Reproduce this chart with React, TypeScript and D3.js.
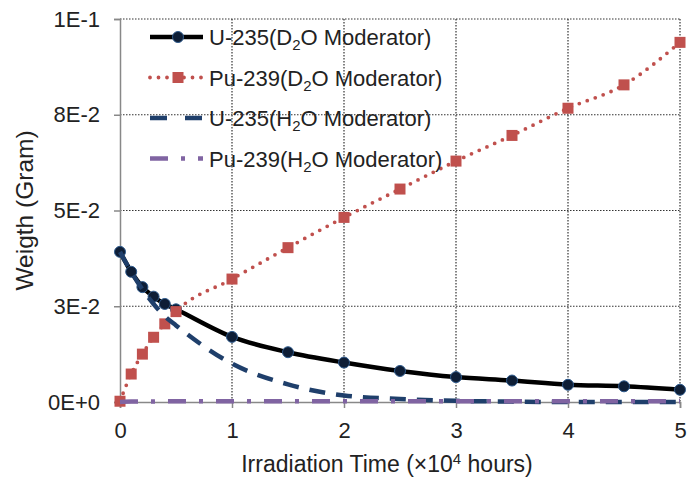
import React, { useRef, useEffect } from 'react';
import * as d3 from 'd3';

// irradiation time, x10^4 hours
const times = [0, 0.1, 0.2, 0.3, 0.4, 0.5, 1, 1.5, 2, 2.5, 3, 3.5, 4, 4.5, 5];

// weight in grams
const u235D2O = [0.0392, 0.0340, 0.0300, 0.0275, 0.0256, 0.0242, 0.0170, 0.0130, 0.0103, 0.0081, 0.0065, 0.0056, 0.0045, 0.0041, 0.0032];
const pu239D2O = [0.0002, 0.0073, 0.0125, 0.0169, 0.0204, 0.0236, 0.0321, 0.0403, 0.0482, 0.0556, 0.0629, 0.0696, 0.0767, 0.0828, 0.0939];
const u235H2O = [0.0392, 0.0340, 0.0294, 0.0256, 0.0224, 0.0200, 0.0100, 0.0046, 0.0017, 0.0008, 0.0003, 0.0001, 0.0000, 0.0000, 0.0000];
const pu239H2O = [0.0000, 0.0001, 0.0001, 0.0001, 0.0002, 0.0002, 0.0002, 0.0002, 0.0002, 0.0002, 0.0002, 0.0002, 0.0002, 0.0002, 0.0002];

const xTicks = [0, 1, 2, 3, 4, 5];
const yTicks = [0, 0.025, 0.05, 0.075, 0.1];
const yTickLabels = ['0E+0', '3E-2', '5E-2', '8E-2', '1E-1'];

const FONT = '"Liberation Sans", Arial, sans-serif';

const App = () => {
  const ref = useRef<SVGSVGElement>(null);
  const width = 688;
  const height = 482;

  useEffect(() => {
    const svg = d3.select(ref.current)
      .attr('width', width)
      .attr('height', height)
      .style('background-color', 'white')
      .style('font-family', FONT);

    svg.selectAll('*').remove();

    const left = 120, top = 19, right = 680, bottom = 402;

    const x = d3.scaleLinear().domain([0, 5]).range([left, right]);
    const y = d3.scaleLinear().domain([0, 0.1]).range([bottom, top]);

    // dotted grid
    const grid = svg.append('g');
    grid.selectAll('line.h')
      .data(yTicks.slice(1))
      .enter().append('line')
      .attr('x1', left).attr('x2', right)
      .attr('y1', d => y(d)).attr('y2', d => y(d))
      .style('stroke', '#333')
      .style('stroke-width', 1.2)
      .style('stroke-dasharray', '1.5,1.5');
    grid.selectAll('line.v')
      .data(xTicks.slice(1))
      .enter().append('line')
      .attr('x1', d => x(d)).attr('x2', d => x(d))
      .attr('y1', top).attr('y2', bottom)
      .style('stroke', '#333')
      .style('stroke-width', 1.2)
      .style('stroke-dasharray', '1.5,1.5');

    // axes
    const yAxis = d3.axisLeft(y)
      .tickValues(yTicks)
      .tickSize(6)
      .tickPadding(14)
      .tickFormat((d, i) => yTickLabels[i]);
    const yg = svg.append('g').attr('transform', `translate(${left},0)`).call(yAxis);
    yg.select('.domain').style('stroke', '#888').style('stroke-width', 1.5);
    yg.selectAll('.tick line').style('stroke', '#888').style('stroke-width', 1.5);
    yg.selectAll('text').style('font-size', '22px').style('fill', '#222').style('font-family', FONT);

    const xAxis = d3.axisBottom(x)
      .tickValues(xTicks)
      .tickSize(6)
      .tickFormat(d3.format('d'));
    const xg = svg.append('g').attr('transform', `translate(0,${bottom})`).call(xAxis);
    xg.select('.domain').style('stroke', '#888').style('stroke-width', 1.5);
    xg.selectAll('.tick line').style('stroke', '#888').style('stroke-width', 1.5);
    xg.selectAll('text')
      .attr('y', 36).attr('dy', null)
      .style('font-size', '22px').style('fill', '#222').style('font-family', FONT);

    // axis titles
    const xt = svg.append('text')
      .attr('x', 387)
      .attr('y', 472)
      .attr('text-anchor', 'middle')
      .style('font-size', '23px')
      .style('fill', '#222');
    xt.append('tspan').text('Irradiation Time (\u00d710');
    xt.append('tspan').attr('dy', -8).style('font-size', '15px').text('4');
    xt.append('tspan').attr('dy', 8).text(' hours)');

    svg.append('g').attr('transform', `translate(33, ${(top + bottom) / 2})`)
      .append('text')
      .attr('transform', 'rotate(-90)')
      .attr('text-anchor', 'middle')
      .style('font-size', '24.5px')
      .style('fill', '#222')
      .text('Weigth (Gram)');

    const series = [
      { name: 'U-235', mod: 'D', values: u235D2O, color: '#000', width: 4.5, dash: null, cap: 'butt', marker: 'circle' },
      { name: 'Pu-239', mod: 'D', values: pu239D2O, color: '#C0504D', width: 3.8, dash: '0,8.5', cap: 'round', marker: 'square' },
      { name: 'U-235', mod: 'H', values: u235H2O, color: '#1F3F6B', width: 4.5, dash: '16,11', cap: 'butt', marker: null },
      { name: 'Pu-239', mod: 'H', values: pu239H2O, color: '#8064A2', width: 4.5, dash: '18,13,4,13', cap: 'butt', marker: null },
    ];

    const line = d3.line<number>()
      .x((d, i) => x(times[i]))
      .y(d => y(d))
      .curve(d3.curveMonotoneX);

    const plot = svg.append('g');
    series.forEach(s => {
      plot.append('path')
        .datum(s.values)
        .attr('d', line)
        .style('fill', 'none')
        .style('stroke', s.color)
        .style('stroke-width', s.width)
        .style('stroke-linecap', s.cap)
        .style('stroke-dasharray', s.dash);
      if (s.marker === 'circle') {
        plot.selectAll(null)
          .data(s.values)
          .enter().append('circle')
          .attr('cx', (d, i) => x(times[i]))
          .attr('cy', d => y(d))
          .attr('r', 5.5)
          .style('fill', '#0E1E36')
          .style('stroke', '#2E5A8C')
          .style('stroke-width', 1);
      } else if (s.marker === 'square') {
        plot.selectAll(null)
          .data(s.values)
          .enter().append('rect')
          .attr('x', (d, i) => x(times[i]) - 5.5)
          .attr('y', d => y(d) - 5.5)
          .attr('width', 11)
          .attr('height', 11)
          .style('fill', '#C0504D');
      }
    });

    // legend
    const legend = svg.append('g');
    series.forEach((s, i) => {
      const cy = 37 + i * 40.5;
      const g = legend.append('g').attr('transform', `translate(0, ${cy})`);
      g.append('line')
        .attr('x1', 150).attr('x2', 203)
        .attr('y1', 0).attr('y2', 0)
        .style('stroke', s.color)
        .style('stroke-width', s.width)
        .style('stroke-linecap', s.cap)
        .style('stroke-dasharray', s.mod === 'H' && s.name === 'U-235' ? '17,18' : s.dash);
      if (s.marker === 'circle') {
        g.append('circle').attr('cx', 178).attr('cy', 0).attr('r', 5.5)
          .style('fill', '#0E1E36').style('stroke', '#2E5A8C');
      } else if (s.marker === 'square') {
        g.append('rect').attr('x', 172.5).attr('y', -5.5).attr('width', 11).attr('height', 11)
          .style('fill', '#C0504D');
      }
      const t = g.append('text')
        .attr('x', 209)
        .attr('y', 8)
        .style('font-size', '22px')
        .style('fill', '#222');
      t.append('tspan').text(`${s.name}(${s.mod}`);
      t.append('tspan').attr('dy', 5).style('font-size', '15px').text('2');
      t.append('tspan').attr('dy', -5).text('O Moderator)');
    });
  }, []);

  return (
    <svg ref={ref} style={{ position: 'absolute', left: 0, top: 0 }}></svg>
  );
};

export default App;
